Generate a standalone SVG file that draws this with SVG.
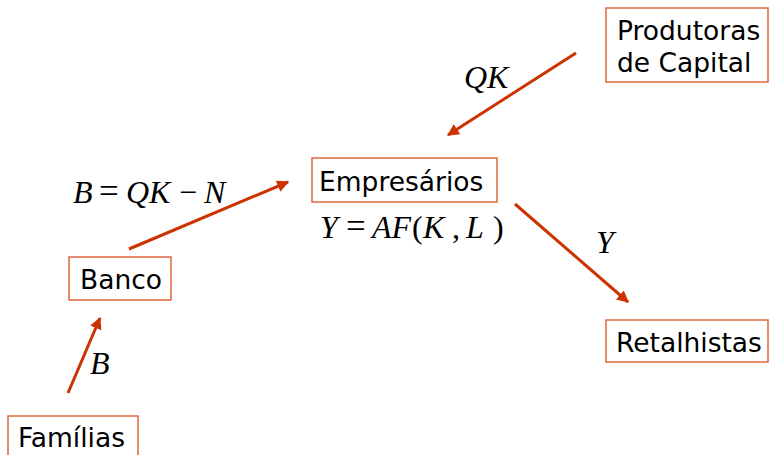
<svg xmlns="http://www.w3.org/2000/svg" width="769" height="455" viewBox="0 0 769 455">
<style>
.box{fill:#fff;stroke:#E0663F;stroke-width:1.5}
.lbl{font-family:"DejaVu Sans",Verdana,sans-serif;font-size:26.5px;fill:#000}
.math{font-family:"Liberation Serif","Times New Roman",serif;font-style:italic;font-size:32px;fill:#000}
.up{font-style:normal}
.eq{font-style:normal;font-size:35px}
.arr{stroke:#CC3300;stroke-width:3;fill:none;marker-end:url(#ah)}
</style>
<defs>
<marker id="ah" viewBox="0 0 10 10" refX="9" refY="5" markerWidth="4" markerHeight="4" orient="auto" markerUnits="strokeWidth">
<path d="M0,0 L10,5 L0,10 z" fill="#CC3300"/>
</marker>
</defs>
<g id="produtoras">
<rect class="box" x="606" y="8" width="162" height="74"/>
<text class="lbl" x="617" y="40">Produtoras</text>
<text class="lbl" x="617" y="72">de Capital</text>
</g>
<g id="empresarios">
<rect class="box" x="312" y="158" width="185" height="44"/>
<text class="lbl" x="319" y="191">Empresários</text>
<text class="math" y="238"><tspan x="320">Y</tspan><tspan class="eq" x="346">=</tspan><tspan x="372">AF</tspan><tspan class="up" x="412">(</tspan><tspan x="423">K</tspan><tspan class="up" x="452">,</tspan><tspan x="466">L</tspan><tspan class="up" x="493">)</tspan></text>
</g>
<g id="banco">
<rect class="box" x="69" y="257" width="102" height="43"/>
<text class="lbl" x="80" y="289">Banco</text>
</g>
<g id="familias">
<rect class="box" x="8" y="416" width="130" height="44"/>
<text class="lbl" x="18" y="447">Famílias</text>
</g>
<g id="retalhistas">
<rect class="box" x="606" y="320" width="162" height="42"/>
<text class="lbl" x="616" y="352">Retalhistas</text>
</g>
<g id="connectors">
<line class="arr" x1="576" y1="53" x2="448" y2="135"/>
<line class="arr" x1="129" y1="249" x2="288" y2="182"/>
<line class="arr" x1="515" y1="204" x2="628" y2="302"/>
<line class="arr" x1="68" y1="393" x2="100" y2="318"/>
<text class="math" y="88"><tspan x="464">QK</tspan></text>
<text class="math" y="203"><tspan x="73">B</tspan><tspan class="eq" x="99">=</tspan><tspan x="126">QK</tspan><tspan class="up" x="179">−</tspan><tspan x="204">N</tspan></text>
<text class="math" x="596" y="253">Y</text>
<text class="math" x="90" y="374">B</text>
</g>
</svg>
